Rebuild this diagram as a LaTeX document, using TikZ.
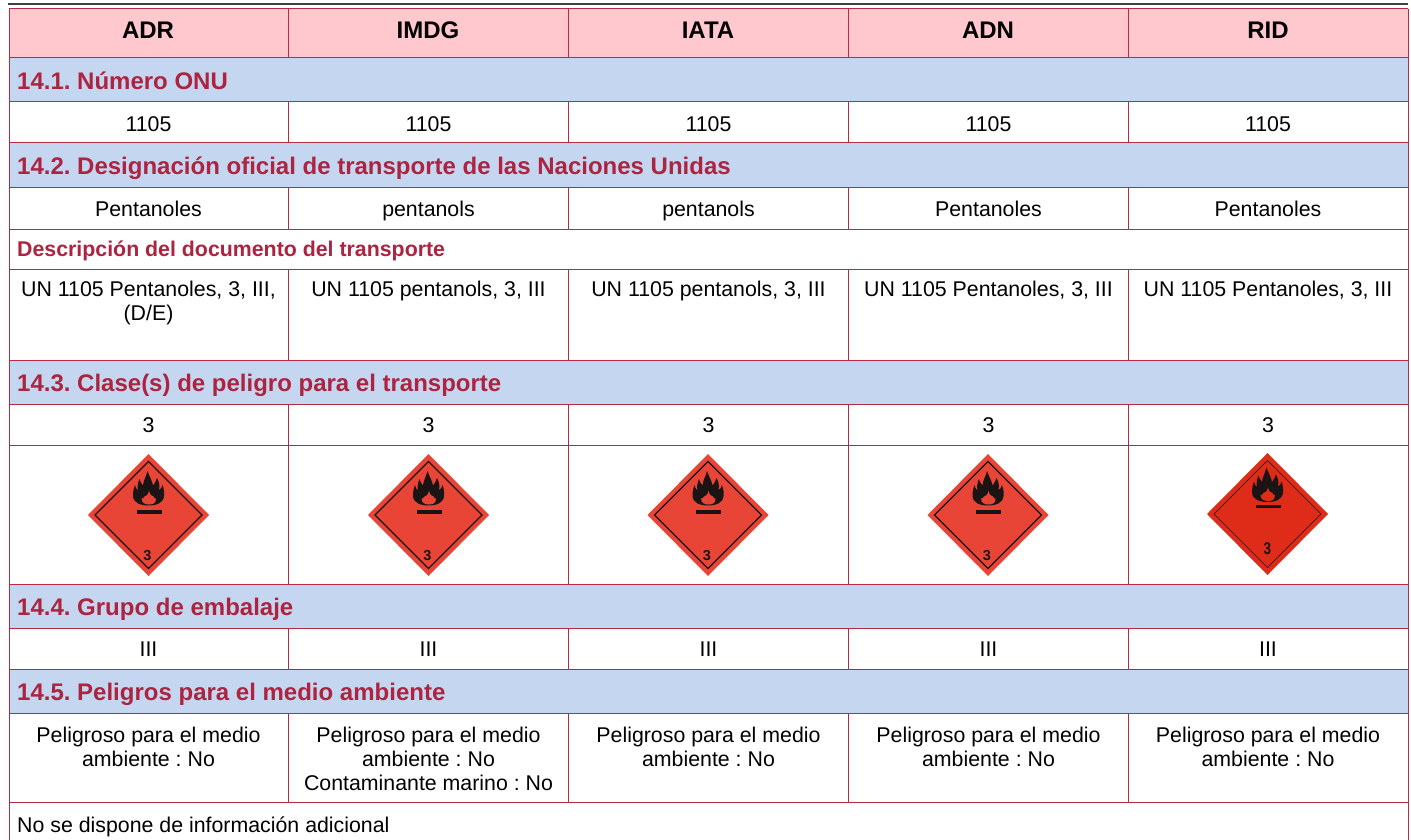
\documentclass[tikz,border=0pt]{standalone}
\usepackage{fontspec}
\setmainfont{Liberation Sans}
\frenchspacing
\definecolor{hdr}{HTML}{FFC8CE}
\definecolor{band}{HTML}{C5D7F0}
\definecolor{rule}{HTML}{B42B42}
\definecolor{ttl}{HTML}{AC2440}
\definecolor{plA}{HTML}{E94537}
\definecolor{plB}{HTML}{DF2C18}
\definecolor{ink}{HTML}{1A1414}
\tikzset{
  gridline/.style={draw=rule,line width=1pt},
  hdrtext/.style={font=\fontsize{24}{28}\selectfont\bfseries,anchor=base,inner sep=0pt},
  ttltext/.style={font=\fontsize{24}{28}\selectfont\bfseries,text=ttl,anchor=base west,inner sep=0pt},
  subttl/.style={font=\fontsize{21.33}{24}\selectfont\bfseries,text=ttl,anchor=base west,inner sep=0pt},
  cell/.style={font=\fontsize{21.33}{24}\selectfont,anchor=base,inner sep=0pt},
  topcell/.style={font=\fontsize{21.33}{24}\selectfont,anchor=north,align=center,inner sep=0pt},
  flame/.pic={
    \fill[ink] (0,-9.5) .. controls (-8,-9.5) and (-15,-12) .. (-15.5,-19)
      .. controls (-15.5,-23) and (-15,-26) .. (-13.5,-30)
      .. controls (-13,-27.5) and (-12.5,-26) .. (-10.5,-24.5)
      .. controls (-11.5,-29) and (-10.5,-32) .. (-9,-36)
      .. controls (-8.5,-33.5) and (-7.5,-32) .. (-5.5,-29.5)
      .. controls (-5,-35) and (-2.5,-38) .. (-1,-44)
      .. controls (1,-38) and (3.5,-35) .. (4.5,-29.5)
      .. controls (6,-31.5) and (7.5,-33.5) .. (8.5,-37)
      .. controls (10.5,-33) and (11.5,-30) .. (10.5,-25)
      .. controls (12.5,-26) and (13.5,-27.5) .. (14,-30)
      .. controls (15.5,-26) and (16,-22) .. (15.5,-19)
      .. controls (15,-12) and (8,-9.5) .. (0,-9.5) -- cycle;
    \fill[pic actions] (0.5,-10.5) .. controls (-4,-10.5) and (-6.5,-12) .. (-7,-16.5)
      .. controls (-6,-16) and (-5,-16.5) .. (-4,-18.5)
      .. controls (-2.5,-18.5) and (-0.5,-20) .. (0.5,-24)
      .. controls (1.5,-20) and (3.5,-18.5) .. (5,-18.5)
      .. controls (5.5,-16.5) and (6.5,-16) .. (7.5,-16.5)
      .. controls (7.5,-12) and (5,-10.5) .. (0.5,-10.5) -- cycle;
  }
}
\newcommand{\placardA}[1]{%
  \begin{scope}[shift={(#1,515)}]
    \fill[plA] (-60.5,0) -- (0,-61) -- (60.5,0) -- (0,61) -- cycle;
    \draw[ink,line width=1.1pt] (-53.5,0) -- (0,-53.5) -- (53.5,0) -- (0,53.5) -- cycle;
    \pic[fill=plA] {flame};
    \fill[ink] (-12,-4.7) rectangle (13,-1.5);
    \node[font=\fontsize{14.5}{15}\selectfont\bfseries,text=ink,inner sep=0pt] (three#1) at (-1,40.5) {3};
  \end{scope}}
\begin{document}
\begin{tikzpicture}[x=1pt,y=-1pt]
\useasboundingbox (0,0) rectangle (1411,840);
\fill[white] (0,0) rectangle (1411,840);
% top rule
\draw[black!75,line width=1.2pt] (8,4) -- (1408,4);
% fills
\fill[hdr] (9,9) rectangle (1408,58);
\foreach \a/\b in {58/102,143/187,360/404,584/628,669/713}
  \fill[band] (9,\a) rectangle (1408,\b);
% horizontal rules
\foreach \y in {9,58,102,143,187,229,269,360,404,445,584,628,669,713,802}
  \draw[gridline] (9,\y) -- (1408,\y);
% outer verticals
\draw[gridline] (9,9) -- (9,840);
\draw[gridline] (1408,9) -- (1408,840);
% column rules
\foreach \x in {288.5,568.5,848.5,1128.5}{
  \draw[gridline] (\x,9) -- (\x,58);
  \draw[gridline] (\x,102) -- (\x,143);
  \draw[gridline] (\x,187) -- (\x,229);
  \draw[gridline] (\x,269) -- (\x,360);
  \draw[gridline] (\x,404) -- (\x,584);
  \draw[gridline] (\x,628) -- (\x,669);
  \draw[gridline] (\x,713) -- (\x,802);
}
% header
\node[hdrtext] (h1) at (148,39) {ADR};
\node[hdrtext] (h2) at (428,39) {IMDG};
\node[hdrtext] (h3) at (708,39) {IATA};
\node[hdrtext] (h4) at (988,39) {ADN};
\node[hdrtext] (h5) at (1268,39) {RID};
% section titles
\node[ttltext] (t1) at (17,89.5) {14.1. Número ONU};
\node[ttltext] (t2) at (17,174.5) {14.2. Designación oficial de transporte de las Naciones Unidas};
\node[subttl] (t2b) at (17,256) {Descripción del documento del transporte};
\node[ttltext] (t3) at (17,391.5) {14.3. Clase(s) de peligro para el transporte};
\node[ttltext] (t4) at (17,615.5) {14.4. Grupo de embalaje};
\node[ttltext] (t5) at (17,700.5) {14.5. Peligros para el medio ambiente};
% repeated cells
\foreach \x/\n in {148.5/a,428.5/b,708.5/c,988.5/d,1268/e}{
  \node[cell] (un\n) at (\x,131.5) {1105};
  \node[cell] (cl\n) at (\x,432.5) {3};
  \node[cell] (pg\n) at (\x,656.5) {III};
}
% designation
\node[cell] (d1) at (148.5,216) {Pentanoles};
\node[cell] (d2) at (428.5,216) {pentanols};
\node[cell] (d3) at (708.5,216) {pentanols};
\node[cell] (d4) at (988.5,216) {Pentanoles};
\node[cell] (d5) at (1268,216) {Pentanoles};
% description
\node[topcell] (e1) at (148.5,280.5) {UN 1105 Pentanoles, 3, III,\\(D/E)};
\node[topcell] (e2) at (428.5,280.5) {UN 1105 pentanols, 3, III};
\node[topcell] (e3) at (708.5,280.5) {UN 1105 pentanols, 3, III};
\node[topcell] (e4) at (988.5,280.5) {UN 1105 Pentanoles, 3, III};
\node[topcell] (e5) at (1268,280.5) {UN 1105 Pentanoles, 3, III};
% placards
\placardA{148.5}
\placardA{428.5}
\placardA{708}
\placardA{988}
\begin{scope}[shift={(1267.5,514)}]
  \fill[plB] (-60.5,0) -- (0,-61) -- (60.5,0) -- (0,61) -- cycle;
  \draw[ink,line width=0.6pt] (-53.5,0) -- (0,-53.5) -- (53.5,0) -- (0,53.5) -- cycle;
  \begin{scope}[yshift=2.5pt]\pic[fill=plB] {flame};\end{scope}
  \fill[ink] (-12,-9.5) rectangle (13,-6.5);
  \node[font=\fontsize{17}{18}\selectfont\bfseries,xscale=.8,text=ink,inner sep=0pt] (threeR) at (0,35) {3};
\end{scope}
% environment
\node[topcell] (p1) at (148.5,726.5) {Peligroso para el medio\\ambiente : No};
\node[topcell] (p2) at (428.5,726.5) {Peligroso para el medio\\ambiente : No\\Contaminante marino : No};
\node[topcell] (p3) at (708.5,726.5) {Peligroso para el medio\\ambiente : No};
\node[topcell] (p4) at (988.5,726.5) {Peligroso para el medio\\ambiente : No};
\node[topcell] (p5) at (1268,726.5) {Peligroso para el medio\\ambiente : No};
\node[font=\fontsize{21.33}{24}\selectfont,anchor=base west,inner sep=0pt] (last) at (17,832) {No se dispone de información adicional};
\end{tikzpicture}
\end{document}
